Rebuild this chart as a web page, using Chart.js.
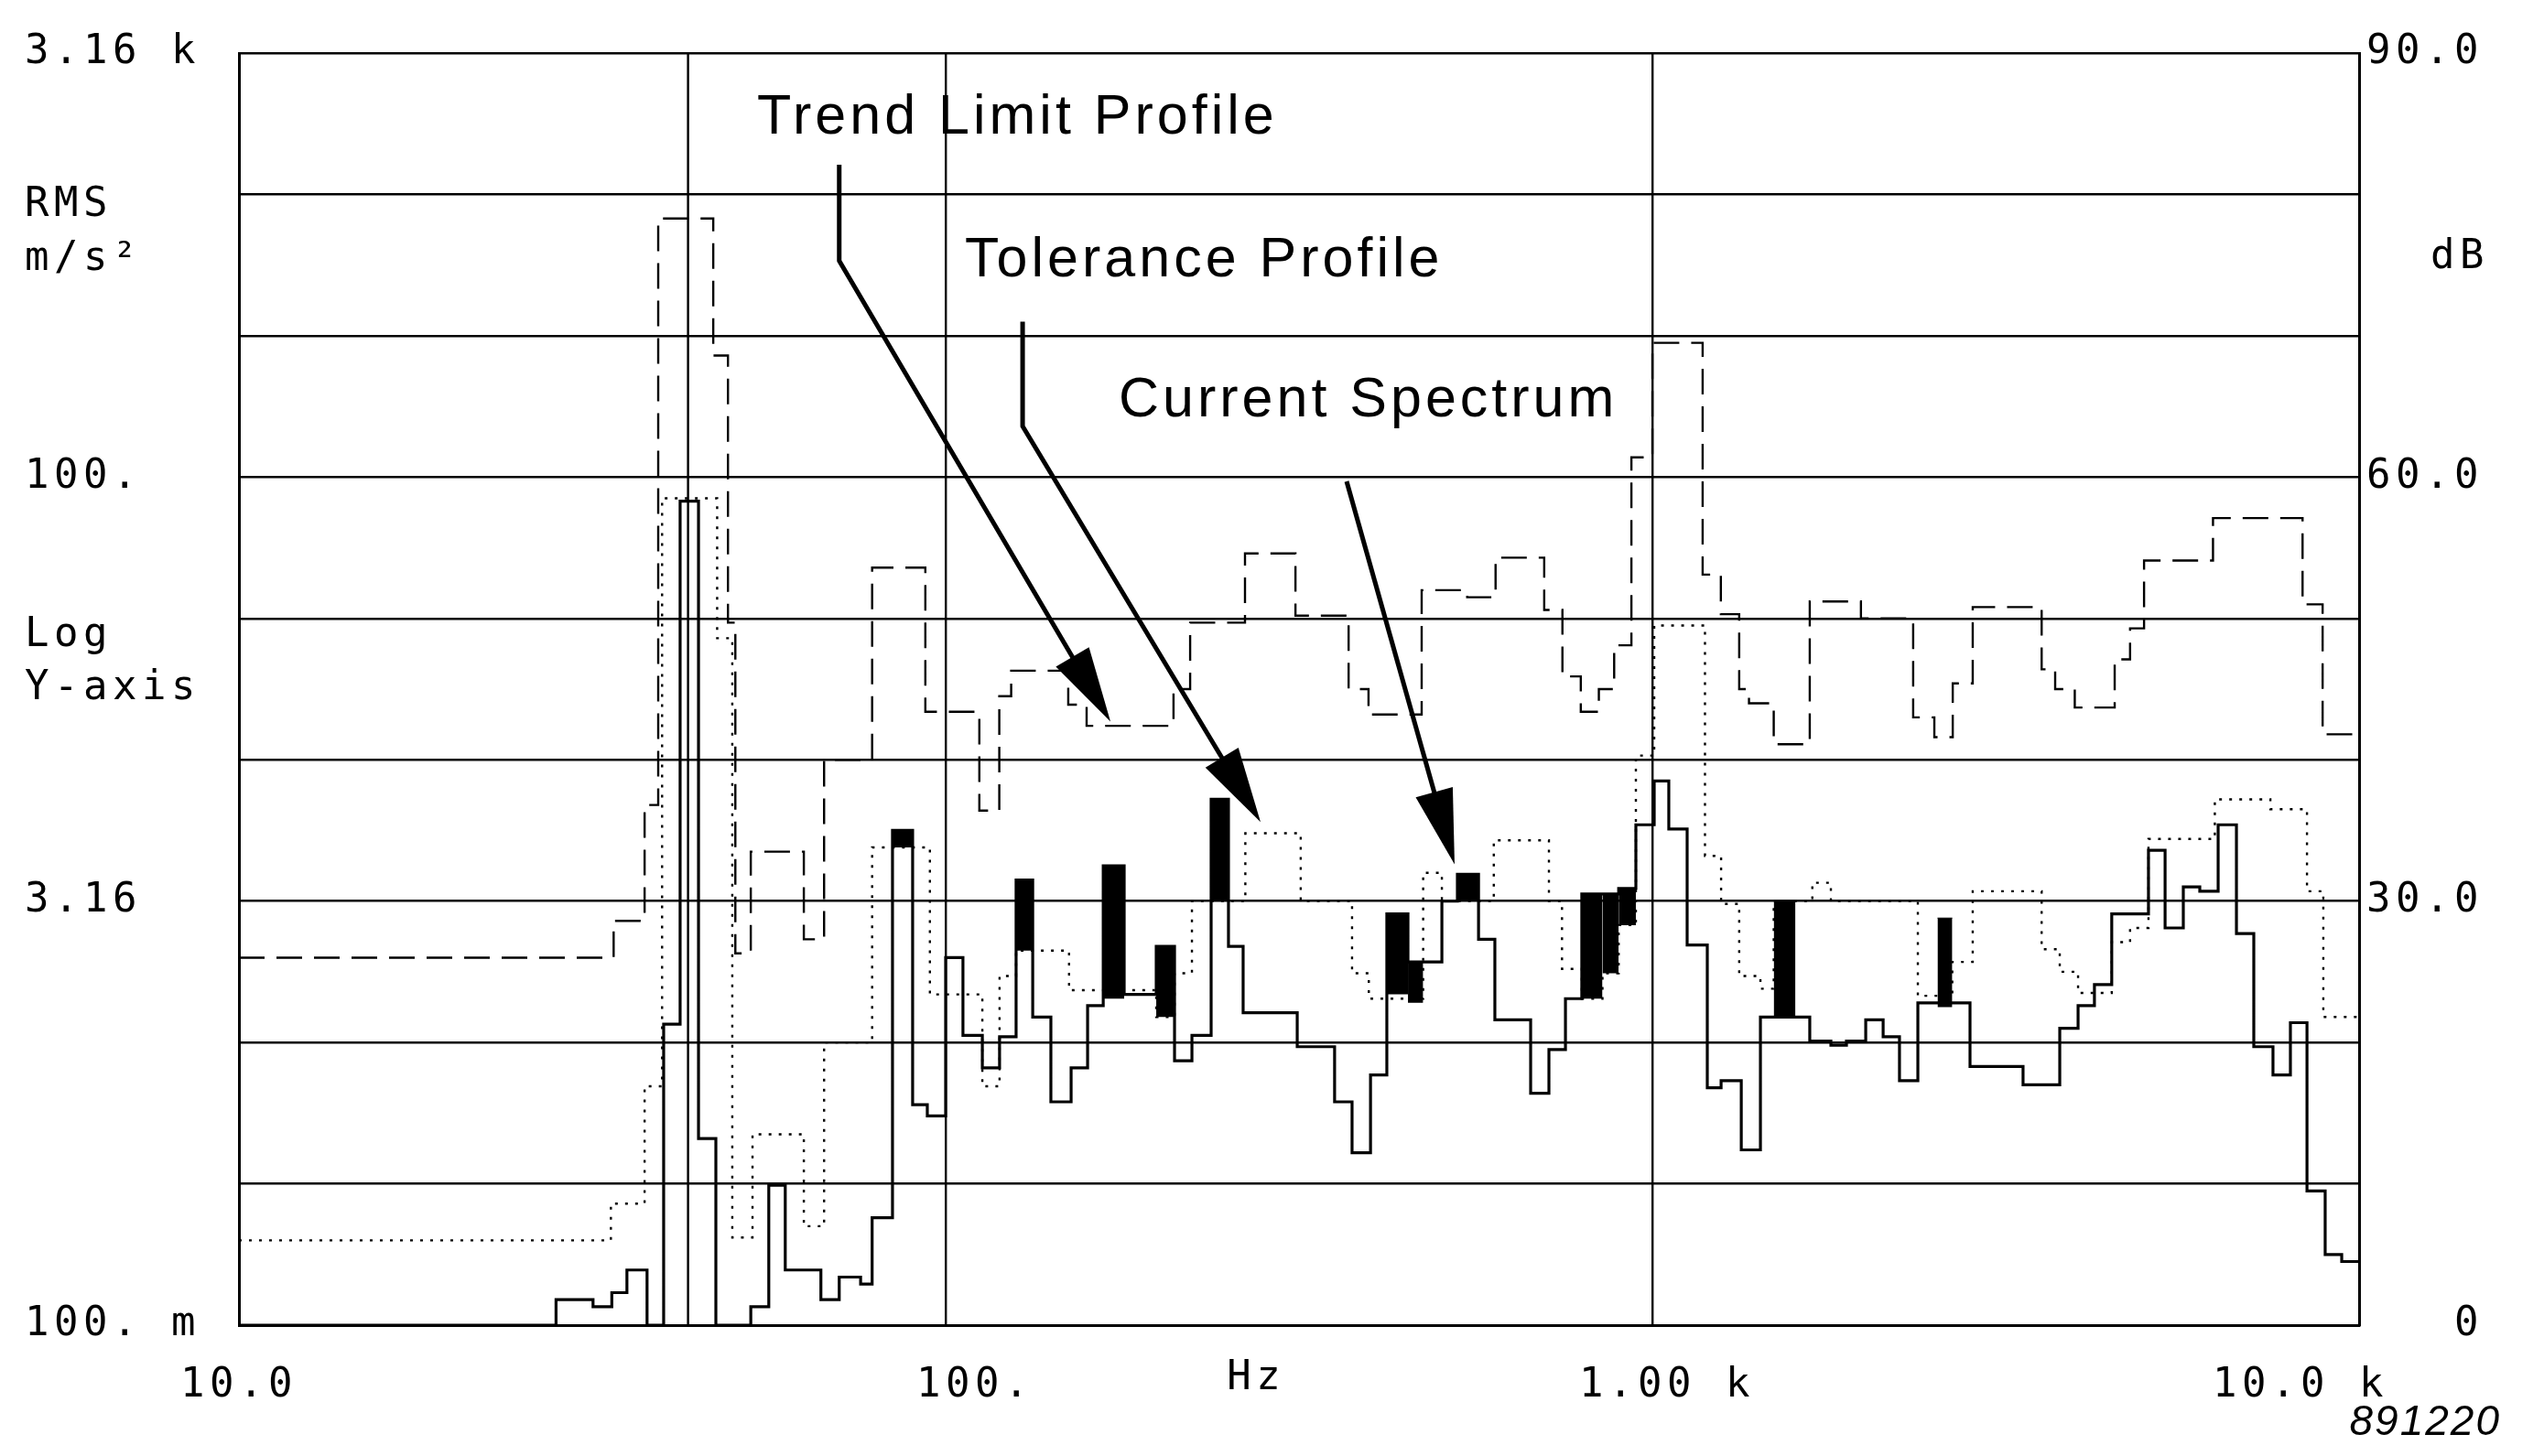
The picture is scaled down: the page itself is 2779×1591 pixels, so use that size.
<!DOCTYPE html>
<html>
<head>
<meta charset="utf-8">
<script src="https://cdn.jsdelivr.net/npm/chart.js@4.4.1/dist/chart.umd.min.js"></script>
<style>
html,body{margin:0;padding:0;background:#fff;}
canvas{display:block;}
</style>
</head>
<body>
<canvas id="c" width="2779" height="1591"></canvas>
<script>
// ---------------- DATA ----------------
const X_MIN = 10, X_MAX = 10000;
const xTickValues = [10, 100, 1000, 10000];
const xTickLabels = ['10.0', '100.', '1.00 k', '10.0 k'];
const yTickValues = [0, 30, 60, 90];
const yLeftLabels = ['100. m', '3.16', '100.', '3.16 k'];
const yRightLabels = ['0', '30.0', '60.0', '90.0'];

// Tolerance Profile: band start frequency (Hz) and level (dB)
const tolFreq = [10, 33.9, 37.5, 39.2, 46.9, 49.2, 50.4, 53.0, 63.0, 67.3,
  78.7, 93.6, 111.6, 119.1, 123.8, 149.1, 158.3, 210.1, 221.8, 265.2,
  312.6, 371.7, 396.6, 471.6, 547, 600, 703, 746, 792, 840,
  883, 934, 1000, 1178, 1250, 1327, 1370, 1485, 1670, 1973,
  2339, 2506, 2661, 2840, 3555, 3715, 3960, 4510, 4742, 4963,
  6213, 8318, 8880];
const tolDb = [26.0, 28.6, 36.8, 78.3, 68.6, 49.7, 26.3, 33.5, 27.3, 40.0,
  53.6, 43.4, 36.4, 44.5, 46.3, 43.9, 42.4, 45.0, 49.7, 54.6,
  50.2, 45.0, 43.2, 52.0, 51.5, 54.3, 50.6, 45.9, 43.4, 45.0,
  48.1, 61.4, 69.5, 53.1, 50.3, 45.0, 44.0, 41.1, 51.2, 50.0,
  43.0, 41.6, 45.4, 50.8, 46.4, 45.0, 43.7, 47.1, 49.3, 54.1,
  57.1, 51.0, 41.8];

// Trend Limit Profile
const trendFreq = [10, 33.6, 37.5, 39.7, 47.5, 49.9, 53.3, 63.0, 67.3, 78.7,
  95.0, 112.7, 119.2, 125.8, 149.5, 198.6, 210.8, 223.1, 265.5, 318,
  375.9, 397, 473.9, 503.7, 596.5, 713.9, 745, 794.6, 850, 896,
  947.7, 1006, 1187, 1251, 1327, 1422, 1485, 1684, 1789, 2375,
  2657, 2840, 3555, 3771, 4003, 4467, 4742, 5035, 6250, 7490,
  8439, 8900];
const trendDb = [6.0, 8.6, 16.9, 58.5, 48.6, 6.2, 13.5, 7.0, 20.0, 33.8,
  23.4, 16.9, 24.7, 26.5, 23.7, 21.8, 24.9, 30.0, 34.8, 30.0,
  24.9, 23.1, 32.0, 30.0, 34.3, 30.0, 25.2, 23.1, 24.9, 28.3,
  40.3, 49.5, 33.2, 29.8, 24.7, 23.8, 30.0, 31.3, 30.0, 23.3,
  25.7, 30.7, 26.6, 25.0, 23.5, 27.1, 28.1, 34.4, 37.2, 36.5,
  30.7, 21.8];

// Current Spectrum
const curFreq = [10, 28.1, 31.7, 33.7, 35.4, 37.8, 39.9, 42.1, 44.7, 47.3,
  53.0, 56.2, 59.3, 66.6, 70.7, 75.8, 78.7, 84.1, 89.8, 94.2,
  100, 105.8, 112.7, 119.2, 125.8, 132.8, 140.9, 150.5, 158.8, 167.1,
  178.9, 198.6, 210.8, 223.1, 237.5, 251.3, 263.6, 314.4, 355.1, 375.9,
  399.2, 421, 451, 503.7, 529.8, 567.6, 598.6, 672.6, 713.9, 753.4,
  794.6, 896, 947.7, 1006, 1055, 1120, 1196, 1251, 1336, 1422,
  1670, 1789, 1882, 2004, 2121, 2237, 2375, 2815, 3346, 3771,
  4003, 4222, 4467, 5035, 5315, 5640, 5951, 6318, 6706, 7096,
  7554, 7995, 8439, 8954, 9450];
const curDb = [0, 1.8, 1.3, 2.3, 3.9, 0, 21.3, 58.3, 13.2, 0,
  1.3, 9.9, 3.9, 1.8, 3.4, 2.9, 7.6, 35.0, 15.6, 14.8,
  26.0, 20.5, 18.2, 20.4, 31.5, 21.8, 15.8, 18.2, 22.6, 32.5,
  23.4, 26.8, 18.7, 20.5, 37.2, 26.8, 22.1, 19.7, 15.8, 12.2,
  17.7, 29.1, 25.7, 30.0, 31.9, 27.3, 21.6, 16.4, 19.5, 23.1,
  30.5, 30.9, 35.4, 38.5, 35.1, 26.9, 16.8, 17.3, 12.4, 21.8,
  20.1, 19.8, 20.1, 21.6, 20.4, 17.3, 22.8, 18.3, 17.0, 21.0,
  22.6, 24.1, 29.1, 33.6, 28.1, 31.0, 30.7, 35.4, 27.7, 19.7,
  17.7, 21.4, 9.5, 5.0, 4.5];

// Filled (black) exceedance blocks: band start/end (Hz), low/high (dB)
const blockStart = [84.1, 125.8, 167.1, 198.6, 237.5, 421, 451, 529.8, 794.6, 850, 896, 1485, 2532];
const blockEnd   = [89.8, 132.8, 178.9, 210.8, 251.3, 451, 473.9, 567.6, 850, 896, 947.7, 1594, 2657];
const blockLow   = [33.8, 26.5, 23.1, 21.8, 30.0, 23.4, 22.8, 30.0, 23.1, 24.9, 28.3, 21.8, 22.5];
const blockHigh  = [35.0, 31.5, 32.5, 26.8, 37.2, 29.1, 25.7, 31.9, 30.5, 30.5, 30.9, 30.0, 28.8];

// Vertical marker line (Hz)
const markerFreq = [43.2];

// Annotation labels and arrows (anchored in data coordinates: Hz, dB)
const annoText = ['Trend Limit Profile', 'Tolerance Profile', 'Current Spectrum'];
const annoTextHz = [54.1, 106.5, 175.7];
const annoTextDb = [84.3, 74.2, 64.3];
const arrowHz = [[70.7, 70.7, 171.1], [128.5, 128.5, 279], [369.3, 525]];
const arrowDb = [[82.1, 75.3, 42.7], [71.0, 63.6, 35.6], [59.7, 32.6]];

// ---------------- BUILD ----------------
function steps(freqs, vals) {
  const pts = freqs.map((f, i) => ({x: f, y: vals[i]}));
  pts.push({x: X_MAX, y: vals[vals.length - 1]});
  return pts;
}

const datasets = [];
datasets.push({
  label: 'Current Spectrum', data: steps(curFreq, curDb), stepped: true,
  borderColor: '#000', borderWidth: 3.2, pointRadius: 0, fill: false
});
datasets.push({
  label: 'Tolerance Profile', data: steps(tolFreq, tolDb), stepped: true,
  borderColor: '#000', borderWidth: 2.4, borderDash: [28, 13], pointRadius: 0, fill: false
});
datasets.push({
  label: 'Trend Limit Profile', data: steps(trendFreq, trendDb), stepped: true,
  borderColor: '#000', borderWidth: 2.4, borderDash: [3, 8], pointRadius: 0, fill: false
});
blockStart.forEach((s, i) => {
  datasets.push({
    label: 'block' + i,
    data: [{x: s, y: blockHigh[i]}, {x: blockEnd[i], y: blockHigh[i]}],
    borderColor: '#000', borderWidth: 1, pointRadius: 0,
    backgroundColor: '#000', fill: {value: blockLow[i]}
  });
});
markerFreq.forEach((f, i) => {
  datasets.push({
    label: 'marker' + i, data: [{x: f, y: 0}, {x: f, y: 90}],
    borderColor: '#000', borderWidth: 2.4, pointRadius: 0, fill: false
  });
});

const MONO = 'DejaVu Sans Mono';
const SPACING = '5.5px';
// horizontal nudge (in character cells) of each x tick label, matching the plotter layout
const xLabelNudge = [0, 1, 0.5, -2];

function nudged(label, n) {
  if (n > 0) return ' '.repeat(Math.round(n * 2)) + label;
  if (n < 0) return label + ' '.repeat(Math.round(-n * 2));
  return label;
}

const overlay = {
  id: 'overlay',
  beforeDraw(chart) {
    chart.ctx.letterSpacing = SPACING;
  },
  afterDatasetsDraw(chart) {
    const ctx = chart.ctx, xs = chart.scales.x, ys = chart.scales.y;
    ctx.save();
    ctx.strokeStyle = '#000'; ctx.fillStyle = '#000';
    ctx.lineWidth = 5; ctx.lineJoin = 'round'; ctx.lineCap = 'butt';
    arrowHz.forEach((hz, k) => {
      const pts = hz.map((h, i) => [xs.getPixelForValue(h), ys.getPixelForValue(arrowDb[k][i])]);
      const n = pts.length;
      const [tx, ty] = pts[n - 1], [px, py] = pts[n - 2];
      const len = Math.hypot(tx - px, ty - py);
      const ux = (tx - px) / len, uy = (ty - py) / len;
      const headL = 82, headW = 21;
      const bx = tx - ux * headL, by = ty - uy * headL;
      ctx.beginPath();
      ctx.moveTo(pts[0][0], pts[0][1]);
      for (let i = 1; i < n - 1; i++) ctx.lineTo(pts[i][0], pts[i][1]);
      ctx.lineTo(bx + ux * 10, by + uy * 10);
      ctx.stroke();
      ctx.beginPath();
      ctx.moveTo(tx, ty);
      ctx.lineTo(bx - uy * headW, by + ux * headW);
      ctx.lineTo(bx + uy * headW, by - ux * headW);
      ctx.closePath();
      ctx.fill();
    });
    ctx.letterSpacing = '4px';
    ctx.font = '61px "Liberation Sans", Arial, sans-serif';
    ctx.textAlign = 'left'; ctx.textBaseline = 'alphabetic';
    annoText.forEach((t, i) => {
      ctx.fillText(t, xs.getPixelForValue(annoTextHz[i]), ys.getPixelForValue(annoTextDb[i]));
    });
    ctx.restore();
  },
  afterDraw(chart) {
    const ctx = chart.ctx, ys = chart.scales.y, xs = chart.scales.x, a = chart.chartArea;
    ctx.save();
    ctx.fillStyle = '#000';
    ctx.letterSpacing = SPACING;
    ctx.font = '44px "' + MONO + '"';
    ctx.textBaseline = 'middle';
    ctx.textAlign = 'left';
    const lx = chart.options.layout.padding.left;
    ctx.fillText('RMS', lx, ys.getPixelForValue(79.2));
    ctx.fillText('m/s²', lx, ys.getPixelForValue(75.4));
    ctx.fillText('Log', lx, ys.getPixelForValue(48.8));
    ctx.fillText('Y-axis', lx, ys.getPixelForValue(45.0));
    ctx.textAlign = 'right';
    ctx.fillText('dB', chart.width - chart.options.layout.padding.right + 6, ys.getPixelForValue(75.5));
    ctx.textAlign = 'center';
    ctx.fillText('Hz', xs.getPixelForValue(275), a.bottom + 59);
    ctx.letterSpacing = '2px';
    ctx.font = 'italic 46px "Liberation Sans", Arial, sans-serif';
    ctx.textAlign = 'right';
    ctx.fillText('891220', a.right + 155, a.bottom + 107);
    ctx.restore();
  }
};

const chart = new Chart(document.getElementById('c'), {
  type: 'line',
  data: {datasets},
  options: {
    responsive: false,
    animation: false,
    devicePixelRatio: 1,
    layout: {padding: {left: 27, right: 66, top: 58, bottom: 0}},
    plugins: {legend: {display: false}, tooltip: {enabled: false}},
    elements: {line: {tension: 0}},
    scales: {
      x: {
        type: 'logarithmic', min: X_MIN, max: X_MAX, position: 'bottom',
        afterBuildTicks: (s) => { s.ticks = xTickValues.map(v => ({value: v})); },
        afterFit: (s) => { s.height = 143; },
        ticks: {
          autoSkip: false, maxRotation: 0, minRotation: 0, padding: 40,
          color: '#000', font: {family: MONO, size: 44},
          callback: (v) => { const i = xTickValues.indexOf(v); return i >= 0 ? nudged(xTickLabels[i], xLabelNudge[i]) : ''; }
        },
        grid: {color: '#000', lineWidth: 2.4, drawTicks: false},
        border: {display: true, color: '#000', width: 3}
      },
      y: {
        type: 'linear', min: 0, max: 90, position: 'left',
        afterFit: (s) => { s.width = 234; },
        ticks: {
          stepSize: 10, autoSkip: false, padding: 10, crossAlign: 'far',
          color: '#000', font: {family: MONO, size: 44},
          callback: (v) => { const i = yTickValues.indexOf(v); return i >= 0 ? yLeftLabels[i] : ''; }
        },
        grid: {color: '#000', lineWidth: 2.4, drawTicks: false},
        border: {display: true, color: '#000', width: 3}
      },
      y2: {
        type: 'linear', min: 0, max: 90, position: 'right',
        afterFit: (s) => { s.width = 136; },
        ticks: {
          stepSize: 10, autoSkip: false, padding: 10, crossAlign: 'far',
          color: '#000', font: {family: MONO, size: 44},
          callback: (v) => { const i = yTickValues.indexOf(v); return i >= 0 ? yRightLabels[i] : ''; }
        },
        grid: {drawOnChartArea: false, drawTicks: false},
        border: {display: true, color: '#000', width: 3}
      }
    }
  },
  plugins: [overlay]
});
</script>
</body>
</html>
